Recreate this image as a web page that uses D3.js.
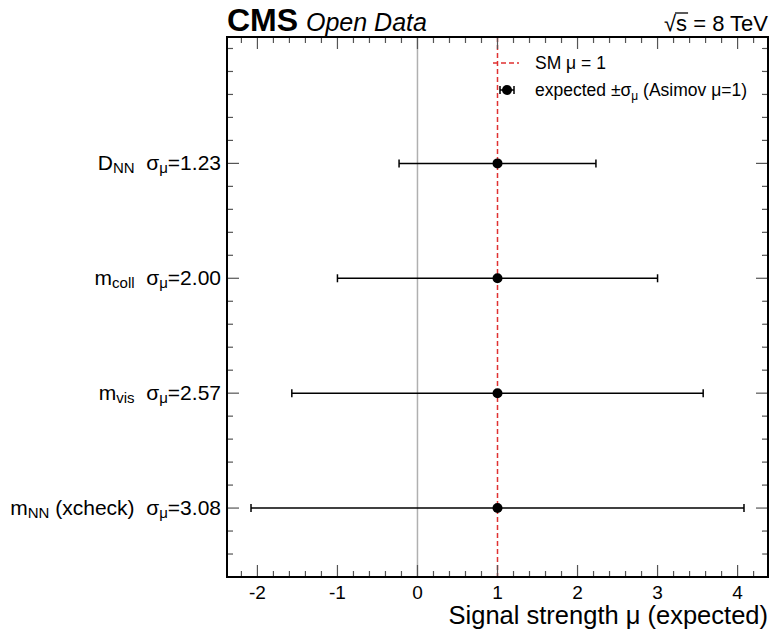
<!DOCTYPE html>
<html><head><meta charset="utf-8">
<script src="https://cdn.jsdelivr.net/npm/d3@7"></script>
<style>body{margin:0;background:#fff}svg{display:block;font-family:"Liberation Sans",Arial,Helvetica,sans-serif}</style>
</head><body><svg id="c" width="771" height="631"></svg>
<script>
const labelMain = ["m", "m", "m", "D"];
const labelSub = ["NN", "vis", "coll", "NN"];
const labelExtra = [" (xcheck)", "", "", ""];
const muValues = [1, 1, 1, 1];
const sigmaValues = [3.08, 2.57, 2.00, 1.23];
const xTickValues = [-2, -1, 0, 1, 2, 3, 4];

const svg = d3.select("#c");
const L = 227, R = 768, T = 37, B = 577;
const x = d3.scaleLinear().domain([-2.38, 4.38]).range([L, R]);
const y = d3.scaleLinear().domain([-0.6, 4.1]).range([B, T]);
const RED = "#e03131";

// reference lines
svg.append("line").attr("x1", x(0)).attr("x2", x(0)).attr("y1", T).attr("y2", B)
  .attr("stroke", "#b0b0b0").attr("stroke-width", 1.5);
svg.append("line").attr("x1", x(1)).attr("x2", x(1)).attr("y1", T).attr("y2", B)
  .attr("stroke", RED).attr("stroke-width", 1.5).attr("stroke-dasharray", "5,3");

// ticks
const tg = svg.append("g").attr("stroke", "#555").attr("stroke-width", 1.2);
const xMinor = d3.range(-2.2, 4.39, 0.2).map(v => Math.round(v * 10) / 10);
xMinor.forEach(v => {
  const major = Math.abs(v - Math.round(v)) < 1e-6;
  const len = major ? 12 : 6;
  tg.append("line").attr("x1", x(v)).attr("x2", x(v)).attr("y1", B).attr("y2", B - len);
  tg.append("line").attr("x1", x(v)).attr("x2", x(v)).attr("y1", T).attr("y2", T + len);
});
const yMinor = d3.range(-0.6, 4.11, 0.2).map(v => Math.round(v * 10) / 10);
yMinor.forEach(v => {
  const major = Math.abs(v - Math.round(v)) < 1e-6 && v >= 0 && v <= 3;
  const len = major ? 12 : 6;
  tg.append("line").attr("x1", L).attr("x2", L + len).attr("y1", y(v)).attr("y2", y(v));
  tg.append("line").attr("x1", R).attr("x2", R - len).attr("y1", y(v)).attr("y2", y(v));
});

// frame
svg.append("rect").attr("x", L).attr("y", T).attr("width", R - L).attr("height", B - T)
  .attr("fill", "none").attr("stroke", "#000").attr("stroke-width", 2);

// x tick labels
svg.append("g").selectAll("text").data(xTickValues).join("text")
  .attr("x", d => x(d)).attr("y", 599).attr("text-anchor", "middle")
  .attr("font-size", 19).text(d => d);

svg.append("text").attr("x", R).attr("y", 624).attr("text-anchor", "end")
  .attr("font-size", 25.5).text("Signal strength μ (expected)");

// error bars
const rows = d3.range(sigmaValues.length);
const eb = svg.append("g");
rows.forEach(i => {
  const yy = y(i), lo = x(muValues[i] - sigmaValues[i]), hi = x(muValues[i] + sigmaValues[i]);
  eb.append("line").attr("x1", lo).attr("x2", hi).attr("y1", yy).attr("y2", yy).attr("stroke", "#000").attr("stroke-width", 1.5);
  [lo, hi].forEach(cx => eb.append("line").attr("x1", cx).attr("x2", cx).attr("y1", yy - 4).attr("y2", yy + 4).attr("stroke", "#000").attr("stroke-width", 1.5));
  eb.append("circle").attr("cx", x(muValues[i])).attr("cy", yy).attr("r", 5).attr("fill", "#000");
});

// y labels
rows.forEach(i => {
  const t = svg.append("text").attr("x", 221).attr("y", y(i) + 7).attr("text-anchor", "end").attr("font-size", 21);
  t.append("tspan").text(labelMain[i]);
  t.append("tspan").attr("font-size", 15).attr("dy", 3).text(labelSub[i]);
  t.append("tspan").attr("dy", -3).text(labelExtra[i] + "\u00a0\u00a0σ");
  t.append("tspan").attr("font-size", 15).attr("dy", 3).text("μ");
  t.append("tspan").attr("dy", -3).text("=" + sigmaValues[i].toFixed(2));
});

// legend
svg.append("line").attr("x1", 493).attr("x2", 519).attr("y1", 63).attr("y2", 63)
  .attr("stroke", RED).attr("stroke-width", 1.5).attr("stroke-dasharray", "5,3");
svg.append("text").attr("x", 535).attr("y", 69).attr("font-size", 17.5).text("SM μ = 1");
svg.append("line").attr("x1", 500).attr("x2", 514).attr("y1", 90).attr("y2", 90).attr("stroke", "#000").attr("stroke-width", 1.5);
[500, 514].forEach(cx => svg.append("line").attr("x1", cx).attr("x2", cx).attr("y1", 86).attr("y2", 94).attr("stroke", "#000").attr("stroke-width", 1.5));
svg.append("circle").attr("cx", 507).attr("cy", 90).attr("r", 5).attr("fill", "#000");
const lt = svg.append("text").attr("x", 535).attr("y", 96).attr("font-size", 17.5);
lt.append("tspan").text("expected ±σ");
lt.append("tspan").attr("font-size", 12).attr("dy", 4).text("μ");
lt.append("tspan").attr("dy", -4).text(" (Asimov μ=1)");

// header
svg.append("text").attr("x", 227).attr("y", 31).attr("font-size", 32).attr("font-weight", "bold").text("CMS");
svg.append("text").attr("x", 306).attr("y", 31).attr("font-size", 25).attr("font-style", "italic").text("Open Data");
const st = svg.append("text").attr("x", R).attr("y", 31).attr("text-anchor", "end").attr("font-size", 22);
st.append("tspan").text("√");
st.append("tspan").attr("id", "sq").text("s");
st.append("tspan").text(" = 8 TeV");
const sb = document.getElementById("sq").getBBox();
svg.append("line").attr("x1", sb.x - 1).attr("x2", sb.x + sb.width + 1).attr("y1", sb.y + 2).attr("y2", sb.y + 2)
  .attr("stroke", "#000").attr("stroke-width", 1.3);
</script></body></html>
